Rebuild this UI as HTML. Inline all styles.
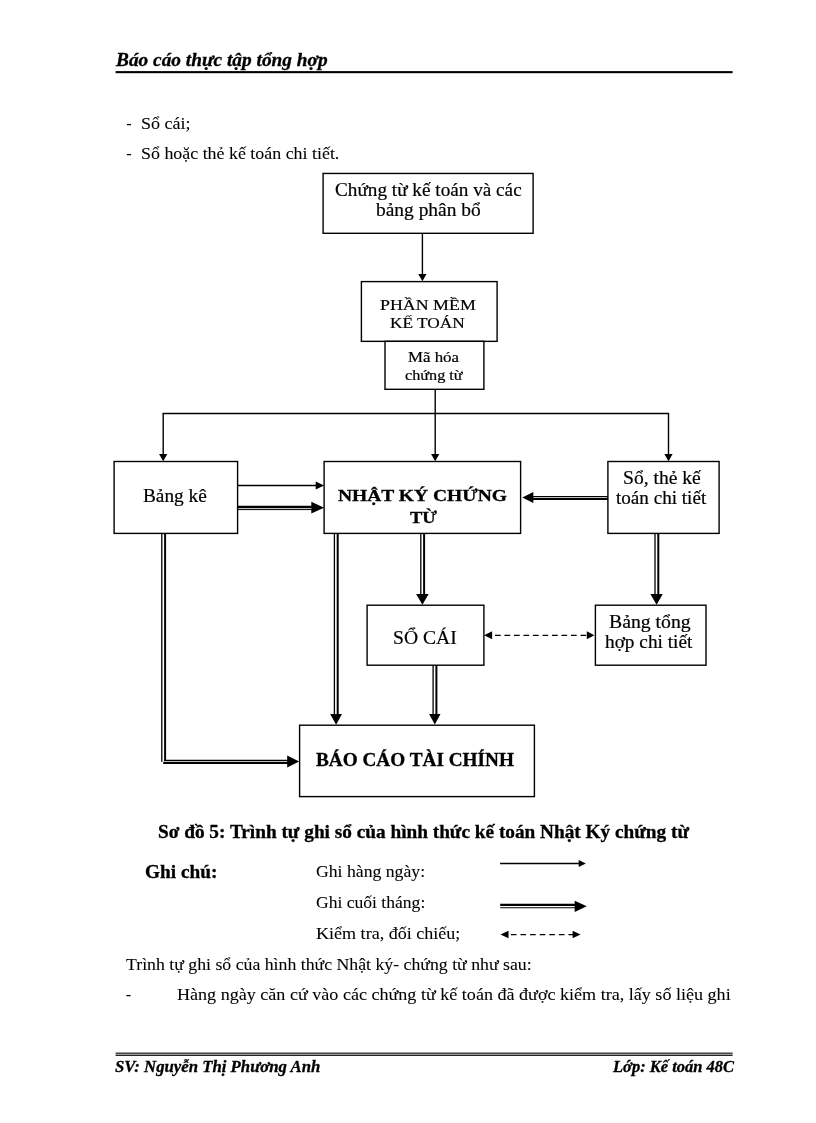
<!DOCTYPE html>
<html lang="vi"><head><meta charset="utf-8"><title>Báo cáo thực tập tổng hợp</title>
<style>
html,body{margin:0;padding:0;background:#fff;}
body{width:816px;height:1123px;position:relative;overflow:hidden;font-family:"Liberation Serif",serif;color:#000;}
.t{position:absolute;white-space:nowrap;line-height:24px;transform-origin:0 0;-webkit-text-stroke:0.08px #000;}
.b{-webkit-text-stroke:0.3px #000;}
.m{-webkit-text-stroke:0.2px #000;}

.d{-webkit-text-stroke:0;}
#txt{position:absolute;left:0;top:0;width:816px;height:1123px;will-change:transform;}
svg{position:absolute;left:0;top:0;}
</style></head><body>
<svg width="816" height="1123" viewBox="0 0 816 1123">
<line x1="422.4" y1="233" x2="422.4" y2="276" stroke="#000" stroke-width="1.4" />
<polygon points="422.40,281.30 418.25,274.10 426.55,274.10" fill="#000"/>
<line x1="435.2" y1="389" x2="435.2" y2="455" stroke="#000" stroke-width="1.4" />
<polygon points="435.20,461.20 431.05,454.00 439.35,454.00" fill="#000"/>
<line x1="162.6" y1="413.5" x2="669.1" y2="413.5" stroke="#000" stroke-width="1.4" />
<line x1="163.2" y1="413.5" x2="163.2" y2="455" stroke="#000" stroke-width="1.4" />
<polygon points="163.20,461.20 159.05,454.00 167.35,454.00" fill="#000"/>
<line x1="668.5" y1="413.5" x2="668.5" y2="455" stroke="#000" stroke-width="1.4" />
<polygon points="668.50,461.20 664.35,454.00 672.65,454.00" fill="#000"/>
<line x1="237.8" y1="485.5" x2="317" y2="485.5" stroke="#000" stroke-width="1.4" />
<polygon points="324.10,485.50 315.70,489.40 315.70,481.60" fill="#000"/>
<line x1="237.8" y1="507.0" x2="312" y2="507.0" stroke="#000" stroke-width="2.3" />
<line x1="237.8" y1="509.6" x2="312" y2="509.6" stroke="#000" stroke-width="1.0" />
<polygon points="324.10,507.70 311.30,513.55 311.30,501.85" fill="#000"/>
<line x1="533" y1="496.4" x2="608" y2="496.4" stroke="#000" stroke-width="1.05" />
<line x1="533" y1="498.9" x2="608" y2="498.9" stroke="#000" stroke-width="2.15" />
<polygon points="522.30,497.60 533.30,492.10 533.30,503.10" fill="#000"/>
<line x1="161.8" y1="533.5" x2="161.8" y2="761.7" stroke="#000" stroke-width="1.3" />
<line x1="165.1" y1="533.5" x2="165.1" y2="760.5" stroke="#000" stroke-width="1.95" />
<line x1="164" y1="760.35" x2="288" y2="760.35" stroke="#000" stroke-width="1.05" />
<line x1="163.2" y1="762.8" x2="288" y2="762.8" stroke="#000" stroke-width="2.15" />
<polygon points="299.20,761.50 287.20,767.50 287.20,755.50" fill="#000"/>
<line x1="334.4" y1="533.5" x2="334.4" y2="715" stroke="#000" stroke-width="1.3" />
<line x1="337.7" y1="533.5" x2="337.7" y2="715" stroke="#000" stroke-width="2.0" />
<polygon points="336.10,724.80 330.20,714.00 342.00,714.00" fill="#000"/>
<line x1="420.8" y1="533.5" x2="420.8" y2="595" stroke="#000" stroke-width="1.3" />
<line x1="424.1" y1="533.5" x2="424.1" y2="595" stroke="#000" stroke-width="2.0" />
<polygon points="422.40,604.80 416.10,594.10 428.70,594.10" fill="#000"/>
<line x1="433.09999999999997" y1="665" x2="433.09999999999997" y2="715" stroke="#000" stroke-width="1.3" />
<line x1="436.4" y1="665" x2="436.4" y2="715" stroke="#000" stroke-width="2.0" />
<polygon points="434.80,724.60 429.10,714.10 440.50,714.10" fill="#000"/>
<line x1="655.0" y1="533.5" x2="655.0" y2="595" stroke="#000" stroke-width="1.3" />
<line x1="658.3" y1="533.5" x2="658.3" y2="595" stroke="#000" stroke-width="2.0" />
<polygon points="656.60,604.80 650.40,594.10 662.80,594.10" fill="#000"/>
<line x1="495" y1="635.3" x2="586.5" y2="635.3" stroke="#000" stroke-width="1.25" stroke-dasharray="5.7 3.8"/>
<polygon points="484.10,635.20 492.10,631.20 492.10,639.20" fill="#000"/>
<polygon points="594.40,635.20 586.80,639.20 586.80,631.20" fill="#000"/>
<rect x="323.1" y="173.45" width="210.00" height="59.85" fill="#fff" stroke="#000" stroke-width="1.4"/>
<rect x="361.4" y="281.6" width="135.70" height="59.75" fill="#fff" stroke="#000" stroke-width="1.4"/>
<rect x="385" y="341.35" width="98.90" height="47.95" fill="#fff" stroke="#000" stroke-width="1.4"/>
<rect x="114.1" y="461.5" width="123.50" height="71.90" fill="#fff" stroke="#000" stroke-width="1.4"/>
<rect x="324.1" y="461.5" width="196.50" height="71.90" fill="#fff" stroke="#000" stroke-width="1.4"/>
<rect x="607.9" y="461.5" width="111.20" height="71.90" fill="#fff" stroke="#000" stroke-width="1.4"/>
<rect x="367.1" y="605.2" width="116.80" height="60.00" fill="#fff" stroke="#000" stroke-width="1.4"/>
<rect x="595.4" y="605.2" width="110.60" height="60.00" fill="#fff" stroke="#000" stroke-width="1.4"/>
<rect x="299.6" y="725.2" width="234.80" height="71.40" fill="#fff" stroke="#000" stroke-width="1.4"/>
<rect x="115.6" y="71.1" width="617" height="2.1" fill="#000"/>
<rect x="115.6" y="1052.6" width="617" height="1.1" fill="#000"/>
<rect x="115.6" y="1054.6" width="617" height="1.25" fill="#000"/>
<line x1="500.1" y1="863.5" x2="580" y2="863.5" stroke="#000" stroke-width="1.4" />
<polygon points="585.80,863.50 578.70,867.10 578.70,859.90" fill="#000"/>
<line x1="500.2" y1="904.8" x2="576" y2="904.8" stroke="#000" stroke-width="2.2" />
<line x1="500.2" y1="907.75" x2="576" y2="907.75" stroke="#000" stroke-width="1.0" />
<polygon points="586.80,906.30 574.70,911.90 574.70,900.70" fill="#000"/>
<line x1="510.9" y1="934.5" x2="573" y2="934.5" stroke="#000" stroke-width="1.25" stroke-dasharray="5.6 4.0"/>
<polygon points="500.50,934.50 508.50,930.70 508.50,938.30" fill="#000"/>
<polygon points="580.60,934.50 572.60,938.30 572.60,930.70" fill="#000"/>
</svg>
<div id="txt">
<span class="t b" style="left:116.12px;top:48px;font-size:18.3px;font-weight:bold;font-style:italic;transform:scaleX(1.0579);">Báo cáo thực tập tổng hợp</span>
<span class="t d" style="left:126.30px;top:112px;font-size:16.3px;">-</span>
<span class="t" style="left:140.76px;top:112px;font-size:16.3px;transform:scaleX(1.1059);">Sổ cái;</span>
<span class="t d" style="left:126.30px;top:142px;font-size:16.3px;">-</span>
<span class="t" style="left:140.73px;top:142px;font-size:16.3px;transform:scaleX(1.0995);">Sổ hoặc thẻ kế toán chi tiết.</span>
<span class="t m" style="left:335.17px;top:178px;font-size:18.3px;transform:scaleX(1.0505);">Chứng từ kế toán và các</span>
<span class="t m" style="left:376.10px;top:198px;font-size:18.3px;transform:scaleX(1.0630);">bảng phân bổ</span>
<span class="t m" style="left:380.39px;top:293px;font-size:15.3px;transform:scaleX(1.1675);">PHẦN MỀM</span>
<span class="t m" style="left:390.11px;top:311px;font-size:15.3px;transform:scaleX(1.1296);">KẾ TOÁN</span>
<span class="t m" style="left:408.03px;top:345px;font-size:14.2px;transform:scaleX(1.1883);">Mã hóa</span>
<span class="t m" style="left:405.21px;top:363px;font-size:14.2px;transform:scaleX(1.1425);">chứng từ</span>
<span class="t m" style="left:143.12px;top:484px;font-size:18.3px;transform:scaleX(1.0547);">Bảng kê</span>
<span class="t b" style="left:337.75px;top:484px;font-size:17.2px;font-weight:bold;transform:scaleX(1.1347);">NHẬT KÝ CHỨNG</span>
<span class="t b" style="left:410.17px;top:506px;font-size:17.2px;font-weight:bold;transform:scaleX(1.0763);">TỪ</span>
<span class="t m" style="left:623.01px;top:466px;font-size:18.3px;transform:scaleX(1.0716);">Sổ, thẻ kế</span>
<span class="t m" style="left:616.24px;top:486px;font-size:18.3px;transform:scaleX(1.0453);">toán chi tiết</span>
<span class="t m" style="left:393.46px;top:626px;font-size:18.5px;transform:scaleX(1.0589);">SỔ CÁI</span>
<span class="t m" style="left:609.13px;top:610px;font-size:18.3px;transform:scaleX(1.0788);">Bảng tổng</span>
<span class="t m" style="left:605.39px;top:630px;font-size:18.3px;transform:scaleX(1.0552);">hợp chi tiết</span>
<span class="t b" style="left:316.10px;top:748px;font-size:17.8px;font-weight:bold;transform:scaleX(1.0814);">BÁO CÁO TÀI CHÍNH</span>
<span class="t b" style="left:157.73px;top:820px;font-size:17.8px;font-weight:bold;transform:scaleX(1.0835);">Sơ đồ 5: Trình tự ghi sổ của hình thức kế toán Nhật Ký chứng từ</span>
<span class="t b" style="left:145.28px;top:860px;font-size:18px;font-weight:bold;transform:scaleX(1.0711);">Ghi chú:</span>
<span class="t" style="left:315.86px;top:860px;font-size:16.3px;transform:scaleX(1.0865);">Ghi hàng ngày:</span>
<span class="t" style="left:315.98px;top:891px;font-size:16.3px;transform:scaleX(1.0789);">Ghi cuối tháng:</span>
<span class="t" style="left:316.44px;top:922px;font-size:16.3px;transform:scaleX(1.1087);">Kiểm tra, đối chiếu;</span>
<span class="t" style="left:125.70px;top:953px;font-size:16.3px;transform:scaleX(1.0908);">Trình tự ghi sổ của hình thức Nhật ký- chứng từ như sau:</span>
<span class="t d" style="left:125.79px;top:983px;font-size:16.3px;">-</span>
<span class="t" style="left:177.18px;top:983px;font-size:16.3px;transform:scaleX(1.1102);">Hàng ngày căn cứ vào các chứng từ kế toán đã được kiểm tra, lấy số liệu ghi</span>
<span class="t b" style="left:115.38px;top:1055px;font-size:16px;font-weight:bold;font-style:italic;transform:scaleX(1.0474);">SV: Nguyễn Thị Phương Anh</span>
<span class="t b" style="left:612.64px;top:1055px;font-size:16px;font-weight:bold;font-style:italic;transform:scaleX(1.0308);">Lớp: Kế toán 48C</span>
</div>
</body></html>
